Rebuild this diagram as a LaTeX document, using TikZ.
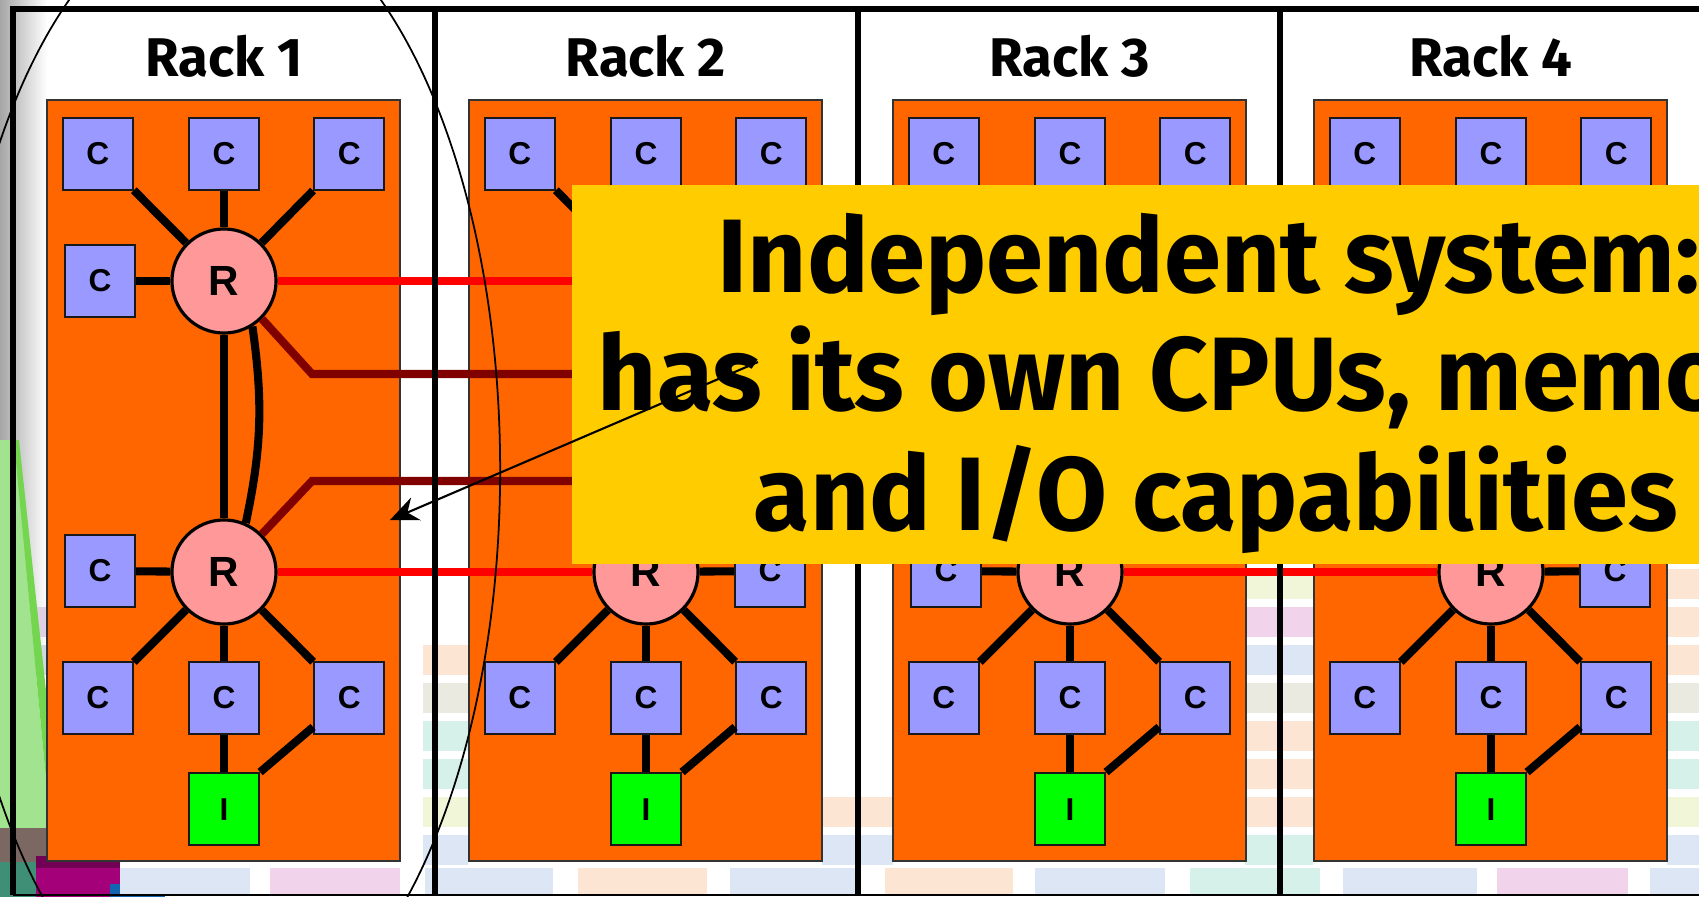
\documentclass[tikz,border=0pt]{standalone}
\usepackage{fontspec}
\usetikzlibrary{arrows.meta,positioning}

\newfontfamily\slidefont{Fira Sans}
\newfontfamily\notefont{Fira Sans}[FakeStretch=0.984]
\newfontfamily\chipfont{Liberation Sans}

\definecolor{rackorange}{HTML}{FF6600}
\definecolor{cpublue}{HTML}{9999FF}
\definecolor{routerpink}{HTML}{FF9999}
\definecolor{iogreen}{HTML}{00FF00}
\definecolor{linkred}{HTML}{FF0000}
\definecolor{linkdark}{HTML}{800000}
\definecolor{noteyellow}{HTML}{FFCC00}
\definecolor{pastelblue}{HTML}{DCE6F5}
\definecolor{pastelpink}{HTML}{F1D3EC}
\definecolor{pastelpeach}{HTML}{FDE5D3}
\definecolor{pastelmint}{HTML}{D6F0EA}
\definecolor{pastelyellow}{HTML}{F2F6D9}
\definecolor{pastelbeige}{HTML}{EAEAE1}
\definecolor{pastellilac}{HTML}{E0D0E4}
\definecolor{pastelgrey}{HTML}{D3D7E2}
\definecolor{conegreen}{HTML}{A2E38F}
\definecolor{conegreendark}{HTML}{74D54E}
\definecolor{blockbrown}{HTML}{7B6863}
\definecolor{blockteal}{HTML}{3F8F76}
\definecolor{blockmagenta}{HTML}{A3007A}
\definecolor{blockblue}{HTML}{1464B4}

\begin{document}
\begin{tikzpicture}[%
x=0.01cm, y=-0.01cm,
>={Stealth[length=8pt,width=7pt]},
cpu/.style={draw=black!90, fill=cpublue, minimum width=0.7cm,
  minimum height=0.72cm, inner sep=0pt, line width=0.6pt,
  font=\chipfont\bfseries\fontsize{9}{9}\selectfont},
iobox/.style={cpu, fill=iogreen},
router/.style={circle, draw=black, fill=routerpink, minimum size=1.04cm,
  inner sep=0pt, line width=0.9pt,
  font=\chipfont\bfseries\fontsize{12}{12}\selectfont},
wire/.style={line width=2.3pt},
redlink/.style={linkred, line width=2.3pt},
darklink/.style={linkdark, line width=2.3pt},
rackbox/.style={draw=black!80, fill=rackorange, line width=0.5pt},
rackframe/.style={line width=1.5pt},
racklabel/.style={anchor=base, inner sep=0pt,
  font=\slidefont\bfseries\fontsize{15.5}{16}\selectfont},
notetext/.style={anchor=base west, inner sep=0pt,
  font=\notefont\bfseries\fontsize{29.7}{34}\selectfont}
]

\useasboundingbox (0,0) rectangle (1699,897);
\clip (0,0) rectangle (1699,897);
\fill[white] (0,0) rectangle (1699,897);

% backdrop on the left edge
\shade[left color=black!35, right color=white] (0,0) rectangle (47,650);
\foreach \k/\col in {1/pastellilac,2/pastelgrey}
  \fill[\col] (20,569+38*\k) rectangle (47,599+38*\k);
\fill[conegreen] (0,440) -- (14,440) -- (47,790) -- (47,845) -- (0,845) -- cycle;
\fill[conegreendark] (14,440) -- (19,440) -- (47,700) -- (47,790) -- cycle;
\fill[blockbrown] (0,828) rectangle (47,862);
\fill[blockteal] (0,862) rectangle (36,897);
\fill[blockmagenta!70!black] (36,856) rectangle (120,868);
\fill[blockmagenta] (36,868) rectangle (120,897);
\fill[blockblue] (110,884) rectangle (165,897);

% pastel stripes between the racks
\foreach \xl/\xr/\k/\col in {
  423/468/2/pastelpeach, 423/468/3/pastelbeige, 423/468/4/pastelmint,
  423/468/5/pastelmint, 423/468/6/pastelyellow, 423/468/7/pastelblue,
  822/893/6/pastelpeach, 822/893/7/pastelblue,
  1245/1313/0/pastelyellow, 1245/1313/1/pastelpink, 1245/1313/2/pastelblue,
  1245/1313/3/pastelbeige, 1245/1313/4/pastelpeach, 1245/1313/5/pastelpeach,
  1245/1313/6/pastelpeach, 1245/1313/7/pastelmint,
  1667/1699/0/pastelpeach, 1667/1699/1/pastelpeach, 1667/1699/2/pastelpeach,
  1667/1699/3/pastelbeige, 1667/1699/4/pastelmint, 1667/1699/5/pastelmint,
  1667/1699/6/pastelyellow, 1667/1699/7/pastelblue}
  \fill[\col] (\xl,569+38*\k) rectangle (\xr,599+38*\k);
\foreach \xl/\xr/\col in {120/250/pastelblue, 270/400/pastelpink,
  425/553/pastelblue, 578/707/pastelpeach, 730/855/pastelblue,
  885/1013/pastelpeach, 1035/1165/pastelblue, 1190/1320/pastelmint,
  1343/1477/pastelblue, 1497/1628/pastelpink, 1650/1699/pastelblue}
  \fill[\col] (\xl,868) rectangle (\xr,895);

% the four racks (2 and 4 are mirrored)
\foreach \r/\L/\m in {1/47/1, 2/469/-1, 3/893/1, 4/1314/-1} {
  \pgfmathsetmacro{\xb}{\L+177}
  \pgfmathsetmacro{\xs}{\L+177-124*\m}
  \draw[rackbox] (\L,100) rectangle (\L+353,861);
  \node[racklabel] (label-\r) at (\xb,76) {Rack \r};

  \node[cpu] (\r-tc) at (\xb,154) {C};
  \node[cpu, left=0.54cm of \r-tc] (\r-tl) {C};
  \node[cpu, right=0.53cm of \r-tc] (\r-tr) {C};
  \node[router] (\r-Ru) at (\xb,281) {R};
  \node[cpu] (\r-su) at (\xs,281) {C};
  \node[router] (\r-Rd) at (\xb,572) {R};
  \node[cpu] (\r-sd) at (\xs,571) {C};
  \node[cpu] (\r-bc) at (\xb,698) {C};
  \node[cpu, left=0.54cm of \r-bc] (\r-bl) {C};
  \node[cpu, right=0.53cm of \r-bc] (\r-br) {C};
  \node[iobox, below=0.37cm of \r-bc] (\r-io) {I};

  \coordinate (\r-ne) at (\L+265,374);
  \coordinate (\r-se) at (\L+265,481);
  \coordinate (\r-nw) at (\L+89,374);
  \coordinate (\r-sw) at (\L+89,481);

  \draw[wire] (\r-tl) -- (\r-Ru);
  \draw[wire] (\r-tc) -- (\r-Ru);
  \draw[wire] (\r-tr) -- (\r-Ru);
  \draw[wire] (\r-su) -- (\r-Ru);
  \draw[wire] (\r-Ru) -- (\r-Rd);
  \draw[wire] (\r-Ru.-58) to[bend left=10] (\r-Rd.66);
  \draw[wire] (\r-sd) -- (\r-Rd);
  \draw[wire] (\r-Rd) -- (\r-bl);
  \draw[wire] (\r-Rd) -- (\r-bc);
  \draw[wire] (\r-Rd) -- (\r-br);
  \draw[wire] (\r-bc) -- (\r-io);
  \draw[wire] (\r-io.north east) -- ([yshift=2.3pt]\r-br.south west);
}

% links between racks
\draw[redlink] (1-Ru) -- (2-Ru);
\draw[redlink] (1-Rd) -- (2-Rd);
\draw[redlink] (3-Ru) -- (4-Ru);
\draw[redlink] (3-Rd) -- (4-Rd);
\draw[darklink] (1-Ru.-45) -- (1-ne) -- (3-nw) -- (3-Ru.-135);
\draw[darklink] (1-Rd.45) -- (1-se) -- (3-sw) -- (3-Rd.135);

% cabinet frame
\draw[rackframe] (13,895) -- (13,9) -- (1710,9);
\draw[line width=0.8pt] (13,895) -- (1710,895);
\foreach \x in {435,858,1280}
  \draw[rackframe] (\x,9) -- (\x,895);

\draw[line width=0.5pt] (225,470) ellipse [x radius=2.75cm, y radius=5.7cm];

% callout
\node[fill=noteyellow, anchor=north west, inner sep=0pt,
  minimum width=12cm, minimum height=3.79cm] (note) at (571,184) {};
\node[notetext] (note-a) at (717,292) {Independent system:};
\node[notetext] (note-b) at (597,410) {has its own CPUs, memory,};
\node[notetext] (note-c) at (753,530) {and I/O capabilities};

\coordinate (ptr-tail) at (758,362);
\coordinate (ptr-tip) at (390,520);
\draw[->, line width=0.6pt] (ptr-tail) -- (ptr-tip);

\end{tikzpicture}
\end{document}
